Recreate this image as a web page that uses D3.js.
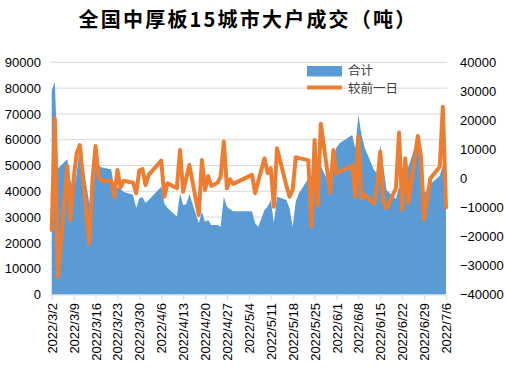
<!DOCTYPE html>
<html>
<head>
<meta charset="utf-8">
<script src="https://cdn.jsdelivr.net/npm/d3@7"></script>
<style>
  body { margin: 0; background: #fff; }
  svg { display: block; }
  .num text { font-family: "Liberation Sans", Arial, sans-serif; font-size: 13px; fill: #000; }
</style>
</head>
<body>
<div id="chart"></div>
<script>
// trading days (2022)
const dates = [
  "3/2","3/3","3/4","3/7","3/8","3/9","3/10","3/11","3/14","3/15","3/16","3/17","3/18",
  "3/21","3/22","3/23","3/24","3/25","3/28","3/29","3/30","3/31","4/1","4/2",
  "4/6","4/7","4/8","4/11","4/12","4/13","4/14","4/15","4/18","4/19","4/20","4/21","4/22",
  "4/24","4/25","4/26","4/27","4/28","4/29",
  "5/5","5/6","5/7","5/9","5/10","5/11","5/12","5/13","5/16","5/17","5/18","5/19","5/20",
  "5/23","5/24","5/25","5/26","5/27","5/30","5/31",
  "6/1","6/2","6/6","6/7","6/8","6/9","6/10","6/13","6/14","6/15","6/16","6/17",
  "6/20","6/21","6/22","6/23","6/24","6/27","6/28","6/29","6/30","7/1","7/4","7/5","7/6"
];

// 合计
const total = [
  79000, 82500, 48900, 52400, 44000, 40000, 47000, 58000, 35500, 38000, 49500, 50000, 49200,
  48500, 41500, 41500, 41000, 39800, 38600, 33400, 37300, 37700, 35600, 36600,
  41800, 35300, 33500, 30200, 39200, 34700, 35000, 39000, 27600, 32100, 28200, 28900, 26900,
  26900, 26300, 37900, 34000, 33000, 32300,
  32300, 27600, 26300, 32800, 34000, 36600, 27600, 37900, 36600, 33400, 26300, 36000, 39200,
  45000, 46000, 48000, 47500, 49800, 42000, 53400,
  57000, 58600, 61800, 56700, 69600, 62000, 57000, 48300, 47000, 57900, 49500, 40500,
  37000, 42000, 38000, 48300, 49500, 60900, 56000, 39200, 40500, 42800, 46000, 50000, 48000
];

// 较前一日
const change = [
  -17800, 20700, -33900, 4300, -14300, -300, 8700, 11500, -22600, -1000, 11200, 400, -800,
  -800, -6300, 2900, -3100, -800, -1500, -5100, 2700, 3200, -2300, 1200,
  6100, -6300, -1700, -3400, 9800, -4600, 0, 4600, -12600, 6300, -4000, 800, -2600,
  -1500, 600, 12700, -3400, -300, -1900,
  1200, -5100, -1000, 6900, 1800, 3500, -9800, 10400, -2500, -6300, -4000, 7300, 7000,
  6300, -16600, 13200, -9200, 18800, -4900, 9800,
  1800, 2300, 4300, -6300, 14400, -6900, -5700, -8600, -2000, 9200, -8000, -10300,
  -3400, 15800, -10900, 6900, -8400, 14600, 7500, -14100, -7000, 0, 4000, 24700, -10000
];

const leftTicks = [0, 10000, 20000, 30000, 40000, 50000, 60000, 70000, 80000, 90000];
const rightTicks = [-40000, -30000, -20000, -10000, 0, 10000, 20000, 30000, 40000];
const xTicks = ["3/2","3/9","3/16","3/23","3/30","4/6","4/13","4/20","4/27","5/4",
  "5/11","5/18","5/25","6/1","6/8","6/15","6/22","6/29","7/6"];

const parse = s => { const [m, d] = s.split("/"); return new Date(2022, +m - 1, +d); };
const data = dates.map((s, i) => ({ date: parse(s), total: total[i], change: change[i] }));

const W = 505, H = 371;
const svg = d3.select("#chart").append("svg").attr("width", W).attr("height", H);

const x = d3.scaleTime().domain([parse("3/2"), parse("7/6")]).range([51.7, 446]);
const yL = d3.scaleLinear().domain([0, 90000]).range([294.5, 62.3]);
const yR = d3.scaleLinear().domain([-40000, 40000]).range([294.5, 62.3]);

// title
svg.append("text")
    .attr("x", 248).attr("y", 27)
    .attr("text-anchor", "middle")
    .style("font-family", "'Noto Sans CJK SC', sans-serif")
    .style("font-size", "20px")
    .style("font-weight", "bold")
    .style("letter-spacing", "2.2px")
    .text("全国中厚板15城市大户成交（吨）");

// gridlines
svg.append("g").selectAll("line")
    .data(leftTicks.filter(d => d > 0))
    .join("line")
    .attr("x1", 50).attr("x2", 447)
    .attr("y1", d => yL(d)).attr("y2", d => yL(d))
    .attr("stroke", "#d9d9d9").attr("stroke-width", 1);

// area
svg.append("path")
    .datum(data)
    .attr("fill", "#5b9bd5")
    .attr("d", d3.area().x(d => x(d.date)).y0(yL(0)).y1(d => yL(d.total)));

// line
svg.append("path")
    .datum(data)
    .attr("fill", "none")
    .attr("stroke", "#ed7d31")
    .attr("stroke-width", 4)
    .attr("stroke-linejoin", "round")
    .attr("stroke-linecap", "round")
    .attr("d", d3.line().x(d => x(d.date)).y(d => yR(d.change)));

// axes
const gl = svg.append("g").attr("class", "num")
    .attr("transform", "translate(50,0)")
    .call(d3.axisLeft(yL).tickValues(leftTicks).tickSize(0).tickPadding(9).tickFormat(d3.format("d")));
gl.select(".domain").remove();

const gr = svg.append("g").attr("class", "num")
    .attr("transform", "translate(446,0)")
    .call(d3.axisRight(yR).tickValues(rightTicks).tickSize(0).tickPadding(14).tickFormat(d3.format("d")));
gr.select(".domain").remove();

const gx = svg.append("g").attr("class", "num")
    .attr("transform", `translate(0,${yL(0) + 0.5})`)
    .call(d3.axisBottom(x).tickValues(xTicks.map(parse)).tickSize(5)
        .tickFormat(d => `2022/${d.getMonth() + 1}/${d.getDate()}`));
gx.select(".domain").attr("stroke", "#d9d9d9").attr("d", "M50,0H447");
gx.selectAll(".tick line").attr("stroke", "#d9d9d9");
gx.selectAll(".tick text")
    .attr("transform", "rotate(-90)")
    .attr("text-anchor", "end")
    .attr("x", -8).attr("y", 0).attr("dy", "0.35em");

// legend
const lg = svg.append("g");
lg.append("rect").attr("x", 307).attr("y", 66).attr("width", 35).attr("height", 10.5).attr("fill", "#5b9bd5");
lg.append("line").attr("x1", 307).attr("x2", 342).attr("y1", 87.5).attr("y2", 87.5)
    .attr("stroke", "#ed7d31").attr("stroke-width", 4);
lg.selectAll("text")
    .data([["合计", 70.5], ["较前一日", 89]])
    .join("text")
    .attr("x", 348).attr("y", d => d[1]).attr("dy", "0.35em")
    .style("font-family", "'Noto Sans CJK SC', sans-serif")
    .style("font-size", "12.5px")
    .style("fill", "#404040")
    .text(d => d[0]);
</script>
</body>
</html>
